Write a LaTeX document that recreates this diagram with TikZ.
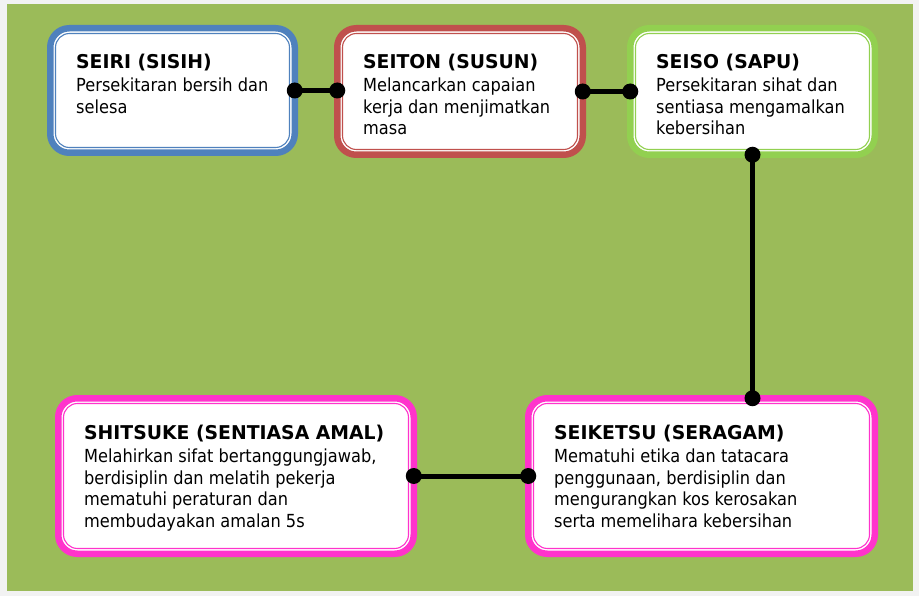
\documentclass[tikz,border=0pt]{standalone}
\usepackage{fontspec}
\setmainfont{DejaVu Sans}[FakeStretch=0.9]
\newfontfamily\titlefont{DejaVu Sans}[FakeStretch=0.99]
\definecolor{pagegray}{HTML}{F2F2F2}
\definecolor{bggreen}{HTML}{9BBB59}
\definecolor{cblue}{HTML}{4F81BD}
\definecolor{cred}{HTML}{C0504D}
\definecolor{cgreen}{HTML}{92D050}
\definecolor{cpink}{HTML}{FF33CC}
\begin{document}
\begin{tikzpicture}[x=1pt,y=-1pt,
  frame/.style={rectangle, rounded corners=19pt, line width=6.5pt, draw=#1, fill=white, inner sep=0pt, outer sep=0pt},
  innerline/.style={rounded corners=14pt, line width=1.1pt, draw=#1},
  txt/.style={anchor=north west, inner sep=0pt, align=left, text=black, font=\fontsize{18}{21.5}\selectfont},
  link/.style={line width=5pt, draw=black},
  dot/.style={circle, fill=black, inner sep=0pt, minimum size=16pt}]
\useasboundingbox (0,0) rectangle (919,596);
\fill[pagegray] (0,0) rectangle (919,596);
\fill[bggreen] (7,4) rectangle (913,591);

% boxes
\node[frame=cblue, minimum width=244.5pt, minimum height=124.5pt] (seiri) at (172.5,90.5) {};
\node[frame=cred, minimum width=245.5pt, minimum height=126.5pt] (seiton) at (460,91.5) {};
\node[frame=cgreen, minimum width=244.5pt, minimum height=126.5pt] (seiso) at (752.5,91.5) {};
\node[frame=cpink, minimum width=355.5pt, minimum height=155.5pt] (shitsuke) at (236,476) {};
\node[frame=cpink, minimum width=346.5pt, minimum height=155.5pt] (seiketsu) at (701.5,476) {};

\foreach \n/\c in {seiri/cblue, seiton/cred, seiso/cgreen, shitsuke/cpink, seiketsu/cpink}
  \draw[innerline=\c] ([shift={(5.25pt,-5.25pt)}]\n.north west) rectangle ([shift={(-5.25pt,5.25pt)}]\n.south east);

% texts
\node[txt] (tseiri) at (76,54) {{\fontsize{19}{21.5}\titlefont\bfseries\rule{0pt}{14pt}SEIRI (SISIH)}\\[1.5pt]
  Persekitaran bersih dan\\ selesa};
\node[txt] (tseiton) at (363,54) {{\fontsize{19}{21.5}\titlefont\bfseries\rule{0pt}{14pt}SEITON (SUSUN)}\\[1.5pt]
  Melancarkan capaian\\ kerja dan menjimatkan\\ masa};
\node[txt] (tseiso) at (656,54) {{\fontsize{19}{21.5}\titlefont\bfseries\rule{0pt}{14pt}SEISO (SAPU)}\\[1.5pt]
  Persekitaran sihat dan\\ sentiasa mengamalkan\\ kebersihan};
\node[txt] (tshitsuke) at (84,425) {{\fontsize{19}{21.5}\titlefont\bfseries\rule{0pt}{14pt}SHITSUKE (SENTIASA AMAL)}\\[1.5pt]
  Melahirkan sifat bertanggungjawab,\\ berdisiplin dan melatih pekerja\\ mematuhi peraturan dan\\ membudayakan amalan 5s};
\node[txt] (tseiketsu) at (554,425) {{\fontsize{19}{21.5}\titlefont\bfseries\rule{0pt}{14pt}SEIKETSU (SERAGAM)}\\[1.5pt]
  Mematuhi etika dan tatacara\\ penggunaan, berdisiplin dan\\ mengurangkan kos kerosakan\\ serta memelihara kebersihan};

% connectors
\coordinate (a1) at (seiri.east);
\coordinate (a2) at (seiri.east -| seiton.west);
\coordinate (b1) at (seiton.east);
\coordinate (b2) at (seiso.west);
\coordinate (c1) at (seiso.south);
\coordinate (c2) at (seiso.south |- seiketsu.north);
\coordinate (e1) at (shitsuke.east);
\coordinate (e2) at (seiketsu.west);
\draw[link] (a1) -- (a2);
\draw[link] (b1) -- (b2);
\draw[link] (c1) -- (c2);
\draw[link] (e1) -- (e2);
\foreach \p in {a1,a2,b1,b2,c1,c2,e1,e2}
  \node[dot] (dot-\p) at (\p) {};
\end{tikzpicture}
\end{document}
